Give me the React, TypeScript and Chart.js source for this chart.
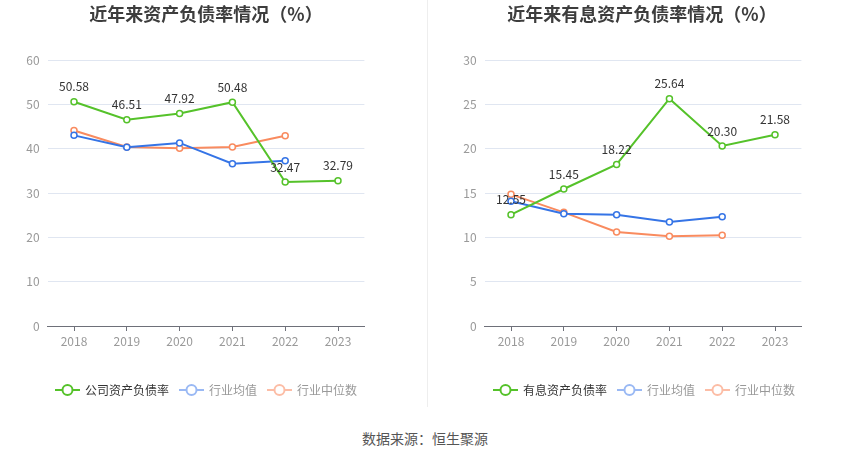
import React, { useEffect, useRef } from "react";
import { Chart, registerables } from "chart.js";

Chart.register(...registerables);

const years = ["2018", "2019", "2020", "2021", "2022", "2023"];

const leftTitle = "近年来资产负债率情况（%）";
const leftNames = ["公司资产负债率", "行业均值", "行业中位数"];
const leftCompany = [50.58, 46.51, 47.92, 50.48, 32.47, 32.79];
const leftAvg = [43.0, 40.3, 41.3, 36.6, 37.3, null];
const leftMedian = [44.1, 40.4, 40.1, 40.4, 42.9, null];
const leftYMax = 60;
const leftYStep = 10;

const rightTitle = "近年来有息资产负债率情况（%）";
const rightNames = ["有息资产负债率", "行业均值", "行业中位数"];
const rightCompany = [12.55, 15.45, 18.22, 25.64, 20.3, 21.58];
const rightAvg = [14.06, 12.67, 12.55, 11.73, 12.33, null];
const rightMedian = [14.85, 12.82, 10.6, 10.11, 10.23, null];
const rightYMax = 30;
const rightYStep = 5;

const sourceText = "数据来源：恒生聚源";

const GREEN = "#55c22a";
const BLUE = "#3574e6";
const ORANGE = "#f98b5f";
const LEG_COLORS = [GREEN, "#9ab9f4", "#fcbda6"];
const LEG_TEXT = ["#333333", "#999999", "#999999"];
const FONT = "'Noto Sans CJK SC', 'Noto Sans', sans-serif";

type Cfg = {
  title: string;
  titleX: number;
  names: string[];
  company: number[];
  avg: (number | null)[];
  median: (number | null)[];
  yMax: number;
  yStep: number;
  yWidth: number;
  padRight: number;
  legendX: number;
};

function makeChart(canvas: HTMLCanvasElement, cfg: Cfg) {
  const overlay = {
    id: "overlay",
    afterDatasetsDraw(chart: any) {
      const ctx = chart.ctx as CanvasRenderingContext2D;
      const meta = chart.getDatasetMeta(0);
      ctx.save();
      ctx.font = `12px ${FONT}`;
      ctx.fillStyle = "#333";
      ctx.textAlign = "center";
      ctx.textBaseline = "middle";
      meta.data.forEach((pt: any, i: number) => {
        const v = cfg.company[i];
        if (v == null) return;
        ctx.fillText(v.toFixed(2), pt.x, pt.y - 15);
      });
      ctx.restore();
    },
    afterDraw(chart: any) {
      const ctx = chart.ctx as CanvasRenderingContext2D;
      ctx.save();
      // title
      ctx.font = `bold 18px ${FONT}`;
      ctx.fillStyle = "#3d3d3d";
      ctx.textAlign = "center";
      ctx.textBaseline = "middle";
      ctx.fillText(cfg.title, cfg.titleX, 14);
      // legend
      ctx.font = `12px ${FONT}`;
      ctx.textAlign = "left";
      let x = cfg.legendX;
      const y = 390;
      cfg.names.forEach((name, i) => {
        const c = LEG_COLORS[i];
        ctx.strokeStyle = c;
        ctx.lineWidth = 2;
        ctx.beginPath();
        ctx.moveTo(x, y);
        ctx.lineTo(x + 25, y);
        ctx.stroke();
        ctx.beginPath();
        ctx.arc(x + 12.5, y, 5, 0, Math.PI * 2);
        ctx.fillStyle = "#fff";
        ctx.fill();
        ctx.stroke();
        ctx.fillStyle = LEG_TEXT[i];
        ctx.fillText(name, x + 30, y);
        x += 30 + ctx.measureText(name).width + 10;
      });
      ctx.restore();
    },
  };

  const ds = (label: string, data: (number | null)[], color: string) => ({
    label,
    data,
    borderColor: color,
    backgroundColor: "#fff",
    borderWidth: 2,
    pointRadius: 3,
    pointBorderWidth: 1.5,
    pointBackgroundColor: "#fff",
    pointBorderColor: color,
    tension: 0,
    spanGaps: false,
  });

  return new Chart(canvas, {
    type: "line",
    data: {
      labels: years,
      datasets: [
        ds(cfg.names[0], cfg.company, GREEN),
        ds(cfg.names[1], cfg.avg, BLUE),
        ds(cfg.names[2], cfg.median, ORANGE),
      ],
    },
    options: {
      animation: false,
      responsive: false,
      devicePixelRatio: 1,
      layout: { padding: { left: 0, right: cfg.padRight, top: 60, bottom: 54 } },
      plugins: {
        legend: { display: false },
        title: { display: false },
        tooltip: { enabled: false },
      },
      scales: {
        x: {
          offset: true,
          grid: {
            offset: false,
            drawOnChartArea: false,
            drawTicks: true,
            tickLength: 5,
            color: "#6e7079",
          },
          border: { display: true, color: "#6e7079", width: 1 },
          ticks: { color: "#999", font: { size: 12, family: FONT }, padding: 3 },
          afterFit(scale: any) {
            scale.height = 30;
          },
        },
        y: {
          min: 0,
          max: cfg.yMax,
          ticks: {
            stepSize: cfg.yStep,
            color: "#999",
            font: { size: 12, family: FONT },
            padding: 8,
          },
          grid: { color: "#e0e6f1", drawTicks: false },
          border: { display: false },
          afterFit(scale: any) {
            scale.width = cfg.yWidth;
          },
        },
      },
    },
    plugins: [overlay],
  });
}

export default function App() {
  const leftRef = useRef<HTMLCanvasElement>(null);
  const rightRef = useRef<HTMLCanvasElement>(null);

  useEffect(() => {
    document.body.style.margin = "0";
    const c1 = makeChart(leftRef.current!, {
      title: leftTitle,
      titleX: 206,
      names: leftNames,
      company: leftCompany,
      avg: leftAvg,
      median: leftMedian,
      yMax: leftYMax,
      yStep: leftYStep,
      yWidth: 47.6,
      padRight: 60.6,
      legendX: 55,
    });
    const c2 = makeChart(rightRef.current!, {
      title: rightTitle,
      titleX: 217,
      names: rightNames,
      company: rightCompany,
      avg: rightAvg,
      median: rightMedian,
      yMax: rightYMax,
      yStep: rightYStep,
      yWidth: 59.6,
      padRight: 48.6,
      legendX: 68,
    });
    return () => {
      c1.destroy();
      c2.destroy();
    };
  }, []);

  return (
    <div style={{ position: "relative", width: 850, height: 459, background: "#fff", fontFamily: FONT }}>
      <canvas ref={leftRef} width={425} height={410} style={{ position: "absolute", left: 0, top: 0 }} />
      <canvas ref={rightRef} width={425} height={410} style={{ position: "absolute", left: 425, top: 0 }} />
      <div style={{ position: "absolute", left: 427, top: 0, width: 1, height: 407, background: "#eeeeee" }} />
      <div
        style={{
          position: "absolute",
          left: 0,
          width: 850,
          top: 429,
          textAlign: "center",
          fontSize: 14,
          lineHeight: "18px",
          color: "#555",
          fontFamily: FONT,
        }}
      >
        {sourceText}
      </div>
    </div>
  );
}
